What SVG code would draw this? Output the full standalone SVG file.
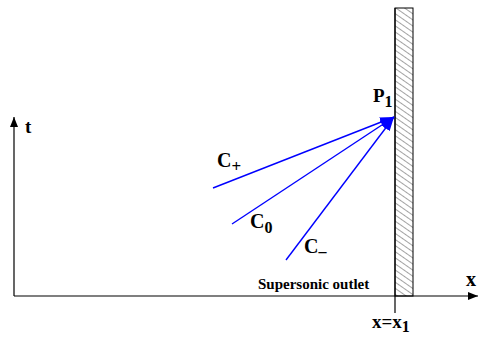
<svg xmlns="http://www.w3.org/2000/svg" width="480" height="338" viewBox="0 0 480 338">
<style>
.ax{stroke:#000;stroke-width:1.2;fill:none}
.ch{stroke:#0000ff;stroke-width:1.4;fill:none}
.lb{font-family:"Liberation Serif",serif;font-weight:bold;fill:#000}
</style>
<defs>
<pattern id="hatch" patternUnits="userSpaceOnUse" width="5" height="5" patternTransform="rotate(-55)">
<line x1="0" y1="0" x2="0" y2="5" stroke="#333" stroke-width="0.9"/>
</pattern>
<marker id="ka" markerWidth="10" markerHeight="8" refX="10" refY="4" orient="auto" markerUnits="userSpaceOnUse">
<path d="M0,0 L10,4 L0,8 z" fill="#000"/>
</marker>
<marker id="ba" markerWidth="14" markerHeight="10" refX="14" refY="5" orient="auto" markerUnits="userSpaceOnUse">
<path d="M0,0 L14,5 L0,10 z" fill="#0000ff"/>
</marker>
</defs>
<g id="wall">
<rect x="395" y="8" width="18" height="288" fill="url(#hatch)" stroke="#000" stroke-width="1"/>
<line x1="395" y1="8" x2="395" y2="313" class="ax"/>
</g>
<g id="axes">
<line x1="14" y1="296" x2="478" y2="296" class="ax" marker-end="url(#ka)"/>
<line x1="14" y1="296" x2="14" y2="117" class="ax" marker-end="url(#ka)"/>
<text x="25" y="133" class="lb" font-size="19">t</text>
<text x="466" y="286" class="lb" font-size="20">x</text>
<text x="372" y="328" class="lb" font-size="19">x=x<tspan font-size="16" dy="4">1</tspan></text>
</g>
<g id="connectors">
<line x1="213" y1="188" x2="394" y2="117" class="ch" marker-end="url(#ba)"/>
<line x1="232" y1="224" x2="394" y2="117" class="ch" marker-end="url(#ba)"/>
<line x1="286" y1="260" x2="394" y2="117" class="ch" marker-end="url(#ba)"/>
</g>
<g id="P1"><text x="373" y="102" class="lb" font-size="19">P<tspan font-size="16" dy="5">1</tspan></text></g>
<g id="Cplus"><text x="217" y="167" class="lb" font-size="20">C<tspan font-size="17" dy="5">+</tspan></text></g>
<g id="C0"><text x="250" y="228" class="lb" font-size="20">C<tspan font-size="16" dy="5">0</tspan></text></g>
<g id="Cminus"><text x="304" y="253" class="lb" font-size="20">C<tspan font-size="16" dy="4">–</tspan></text></g>
<g id="outlet"><text x="258" y="289" class="lb" font-size="15">Supersonic outlet</text></g>
</svg>
